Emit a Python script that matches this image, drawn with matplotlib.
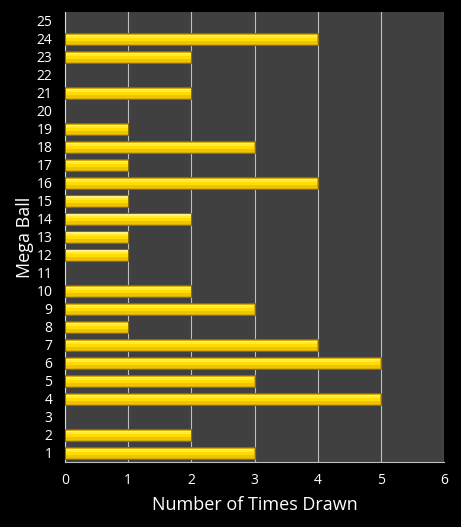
import matplotlib
matplotlib.use("Agg")
import matplotlib.pyplot as plt
import numpy as np

balls = list(range(1, 26))
counts = [3, 2, 0, 5, 3, 5, 4, 1, 3, 2, 0, 1, 1, 2, 1, 4, 1, 3, 1, 0, 2, 0, 2, 4, 0]
xticks = [0, 1, 2, 3, 4, 5, 6]

plt.rcParams['font.family'] = ['Open Sans', 'DejaVu Sans']
fig = plt.figure(figsize=(4.61, 5.27), dpi=100, facecolor='black')
ax = fig.add_axes([65/461, 65/527, 379/461, 450/527])
ax.set_facecolor('#404040')

y = np.array(balls)
c = np.array(counts)
mask = c > 0
yy, cc = y[mask], c[mask]
h = 0.64
# base bar (darker gold, bottom)
ax.barh(yy, cc, height=h, color='#D9AA00', edgecolor='#8C6E00', linewidth=0.7, zorder=3)
# gradient strips from bottom to top
strips = [(-0.16, 0.20, '#EEC400'), (0.0, 0.22, '#FFDD00'), (0.13, 0.14, '#FFE838'), (0.22, 0.06, '#FFF080')]
for off, hh, col in strips:
    ax.barh(yy + off, cc - 0.02, height=hh, left=0.01, color=col, linewidth=0, zorder=4)

ax.set_xlim(0, 6)
ax.set_ylim(0.5, 25.5)
ax.set_xticks(xticks)
ax.set_yticks(balls)
ax.set_yticklabels([str(b) for b in balls])
ax.xaxis.grid(True, color='#BFBFBF', linewidth=0.8, zorder=1)
ax.set_axisbelow(True)
ax.tick_params(colors='white', labelsize=10, length=0)
ax.tick_params(axis='y', pad=9)
ax.tick_params(axis='x', pad=8)
for s in ['top', 'right']:
    ax.spines[s].set_visible(False)
ax.spines['left'].set_color('#D9D9D9')
ax.spines['bottom'].set_color('#BFBFBF')
ax.set_xlabel('Number of Times Drawn', color='white', fontsize=13, labelpad=6)
ax.set_ylabel('Mega Ball', color='white', fontsize=13)
ax.yaxis.set_label_coords(-0.082, 0.5)

fig.savefig('out.png', dpi=100, facecolor='black')
